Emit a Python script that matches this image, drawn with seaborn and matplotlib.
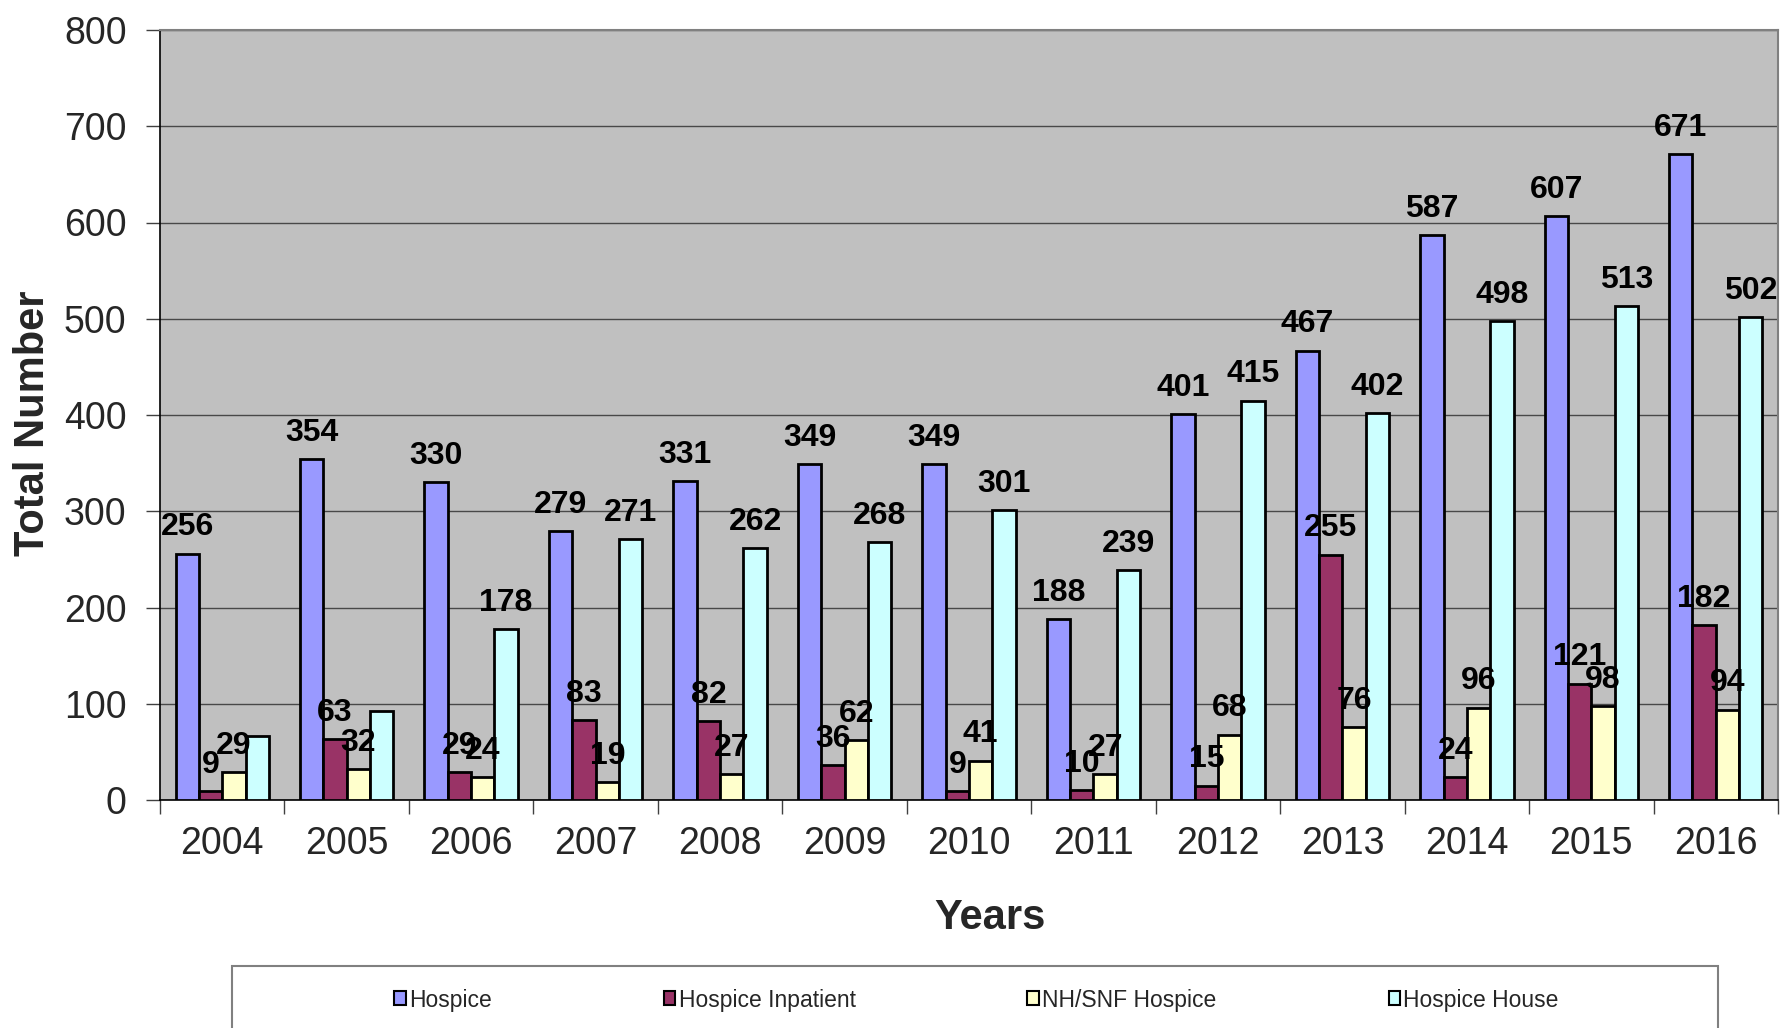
import matplotlib
matplotlib.use("Agg")
import matplotlib.pyplot as plt
from matplotlib.patches import Patch, Rectangle
import seaborn as sns
import pandas as pd
import numpy as np

years = ["2004", "2005", "2006", "2007", "2008", "2009", "2010",
         "2011", "2012", "2013", "2014", "2015", "2016"]
series_names = ["Hospice", "Hospice Inpatient", "NH/SNF Hospice", "Hospice House"]
hospice = [256, 354, 330, 279, 331, 349, 349, 188, 401, 467, 587, 607, 671]
inpatient = [9, 63, 29, 83, 82, 36, 9, 10, 15, 255, 24, 121, 182]
nh_snf = [29, 32, 24, 19, 27, 62, 41, 27, 68, 76, 96, 98, 94]
house = [67, 92, 178, 271, 262, 268, 301, 239, 415, 402, 498, 513, 502]
house_unlabelled_years = ["2004", "2005"]
colors = ["#9999FF", "#993366", "#FFFFCC", "#CCFFFF"]
yticks = list(range(0, 801, 100))

sns.set_theme(style="white")
plt.rcParams["font.family"] = ["Liberation Sans", "DejaVu Sans"]

all_series = [hospice, inpatient, nh_snf, house]
rows = []
for name, vals in zip(series_names, all_series):
    for y, v in zip(years, vals):
        rows.append({"Year": y, "Series": name, "Value": v})
df = pd.DataFrame(rows)

fig = plt.figure(figsize=(17.81, 10.28), dpi=100)
ax = fig.add_axes([160 / 1781, (1028 - 800) / 1028, 1618 / 1781, 770 / 1028])
ax.set_facecolor("#C0C0C0")

sns.barplot(data=df, x="Year", y="Value", hue="Series", order=years,
            hue_order=series_names, palette=colors, saturation=1,
            width=0.75, errorbar=None, edgecolor="black", linewidth=2.0,
            legend=False, ax=ax, zorder=3)

ax.set_ylim(0, 800)
ax.set_xlim(-0.5, len(years) - 0.5)
ax.set_yticks(yticks)
ax.yaxis.grid(True, color="#484848", linewidth=1.0, zorder=0)
ax.xaxis.grid(False)
ax.set_axisbelow(True)

# data labels
for cont, name, vals in zip(ax.containers, series_names, all_series):
    labels = []
    for y, v in zip(years, vals):
        if name == "Hospice House" and y in house_unlabelled_years:
            labels.append("")
        else:
            labels.append(str(v))
    ax.bar_label(cont, labels=labels, padding=8, fontsize=23,
                 fontweight="bold", color="black", zorder=5)

# spines
for s in ["top", "right"]:
    ax.spines[s].set_color("#808080")
    ax.spines[s].set_linewidth(1.5)
for s in ["left", "bottom"]:
    ax.spines[s].set_color("black")
    ax.spines[s].set_linewidth(1.2)

ax.tick_params(axis="y", which="major", length=10, width=1, color="#404040",
               labelsize=27, pad=14, left=True, direction="out")
ax.set_xticks(np.arange(-0.5, len(years), 1.0), minor=True)
ax.tick_params(axis="x", which="major", length=0, labelsize=27, pad=19)
ax.tick_params(axis="x", which="minor", length=10, width=1, color="#404040",
               bottom=True, direction="out")
ax.set_xlabel("")
ax.set_ylabel("")

fig.text(33 / 1781, 1 - 423 / 1028, "Total Number", rotation=90, fontsize=30,
         fontweight="bold", ha="center", va="center")
fig.text(990 / 1781, 1 - 918 / 1028, "Years", fontsize=30, fontweight="bold",
         ha="center", va="center")

# legend frame (cut off at bottom)
fig.patches.append(Rectangle((232 / 1781, -0.05), (1718 - 232) / 1781,
                             (1028 - 966) / 1028 + 0.05,
                             transform=fig.transFigure, facecolor="white",
                             edgecolor="#808080", linewidth=1.5))
handles = [Patch(facecolor=c, edgecolor="black", linewidth=1.5) for c in colors]
fig.legend(handles, series_names, loc="center", ncol=4,
           bbox_to_anchor=(0.5 + 86 / 1781, 1 - 1000 / 1028), frameon=False,
           fontsize=16.5, handlelength=0.5, handleheight=0.55,
           handletextpad=0.15, columnspacing=7.5)

fig.savefig("out.png", dpi=100)
